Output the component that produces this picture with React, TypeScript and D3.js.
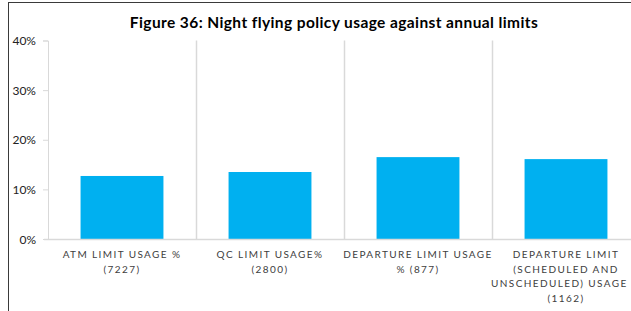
import React, { useEffect, useRef } from "react";
import * as d3 from "d3";

const categories = [
  ["ATM LIMIT USAGE %", "(7227)"],
  ["QC LIMIT USAGE%", "(2800)"],
  ["DEPARTURE LIMIT USAGE", "% (877)"],
  ["DEPARTURE LIMIT", "(SCHEDULED AND", "UNSCHEDULED) USAGE %", "(1162)"],
];
const usage = [0.127, 0.135, 0.165, 0.161];
const yTicks = [0, 0.1, 0.2, 0.3, 0.4];
const title = "Figure 36: Night flying policy usage against annual limits";

function App() {
  const ref = useRef<SVGSVGElement>(null);

  useEffect(() => {
    const svg = d3.select(ref.current);
    svg.selectAll("*").remove();
    const width = 631,
      height = 311;
    const margin = { top: 40, left: 48, bottom: 72 };
    const font = "Lato, 'Liberation Sans', sans-serif";

    // chart frame (cut off on right/bottom like the original)
    svg
      .append("rect")
      .attr("x", 8.5)
      .attr("y", 2.5)
      .attr("width", 700)
      .attr("height", 400)
      .attr("fill", "#fff")
      .attr("stroke", "#3a3a3a")
      .attr("stroke-width", 1);

    svg
      .append("text")
      .attr("x", 334)
      .attr("y", 28)
      .attr("text-anchor", "middle")
      .attr("font-family", font)
      .attr("font-weight", "bold")
      .attr("font-size", 15.5)
      .attr("letter-spacing", 0.4)
      .attr("fill", "#000")
      .text(title);

    const x = d3
      .scaleBand<number>()
      .domain(categories.map((_, i) => i))
      .range([margin.left, margin.left + 148 * 4])
      .padding(0);
    const y = d3
      .scaleLinear()
      .domain([0, 0.4])
      .range([height - margin.bottom, margin.top + 0.5]);

    const g = svg.append("g");

    // vertical separators between categories
    g.selectAll("line.sep")
      .data(categories.map((_, i) => i).slice(1))
      .enter()
      .append("line")
      .attr("x1", (d) => Math.round(x(d)!) + 0.5)
      .attr("x2", (d) => Math.round(x(d)!) + 0.5)
      .attr("y1", y(0.4))
      .attr("y2", y(0))
      .attr("stroke", "#d9d9d9")
      .attr("stroke-width", 1.5);

    const barW = x.bandwidth() * 0.56;
    g.selectAll("rect.bar")
      .data(usage)
      .enter()
      .append("rect")
      .attr("x", (_, i) => x(i)! + (x.bandwidth() - barW) / 2)
      .attr("y", (d) => y(d))
      .attr("width", barW)
      .attr("height", (d) => y(0) - y(d))
      .attr("fill", "#00b0f0");

    // y axis
    const yAxis = svg
      .append("g")
      .attr("transform", `translate(${margin.left},0)`)
      .call(
        d3
          .axisLeft(y)
          .tickValues(yTicks)
          .tickSize(5)
          .tickPadding(7)
          .tickFormat(d3.format(".0%"))
      );
    yAxis.select(".domain").attr("stroke", "#d9d9d9");
    yAxis.selectAll(".tick line").attr("stroke", "#d9d9d9");
    yAxis
      .selectAll(".tick text")
      .attr("font-family", font)
      .attr("font-size", 12)
      .attr("fill", "#222")
      .attr("dy", "0.35em");

    // x axis line
    svg
      .append("line")
      .attr("x1", margin.left - 4)
      .attr("x2", width)
      .attr("y1", y(0) + 0.5)
      .attr("y2", y(0) + 0.5)
      .attr("stroke", "#d9d9d9")
      .attr("stroke-width", 1.5);

    // category labels
    const labels = svg
      .append("g")
      .selectAll("text")
      .data(categories)
      .enter()
      .append("text")
      .attr("text-anchor", "middle")
      .attr("font-family", font)
      .attr("font-size", 10)
      .attr("letter-spacing", 1.4)
      .attr("fill", "#404040");
    labels
      .selectAll("tspan")
      .data((d, i) => d.map((line) => ({ line, i })))
      .enter()
      .append("tspan")
      .attr("x", (d) => x(d.i)! + x.bandwidth() / 2)
      .attr("y", (_, j) => y(0) + 19 + j * 14.5)
      .text((d) => d.line);
  }, []);

  return (
    <svg ref={ref} width={631} height={311} style={{ display: "block", position: "absolute", left: 0, top: 0 }} />
  );
}

export default App;
